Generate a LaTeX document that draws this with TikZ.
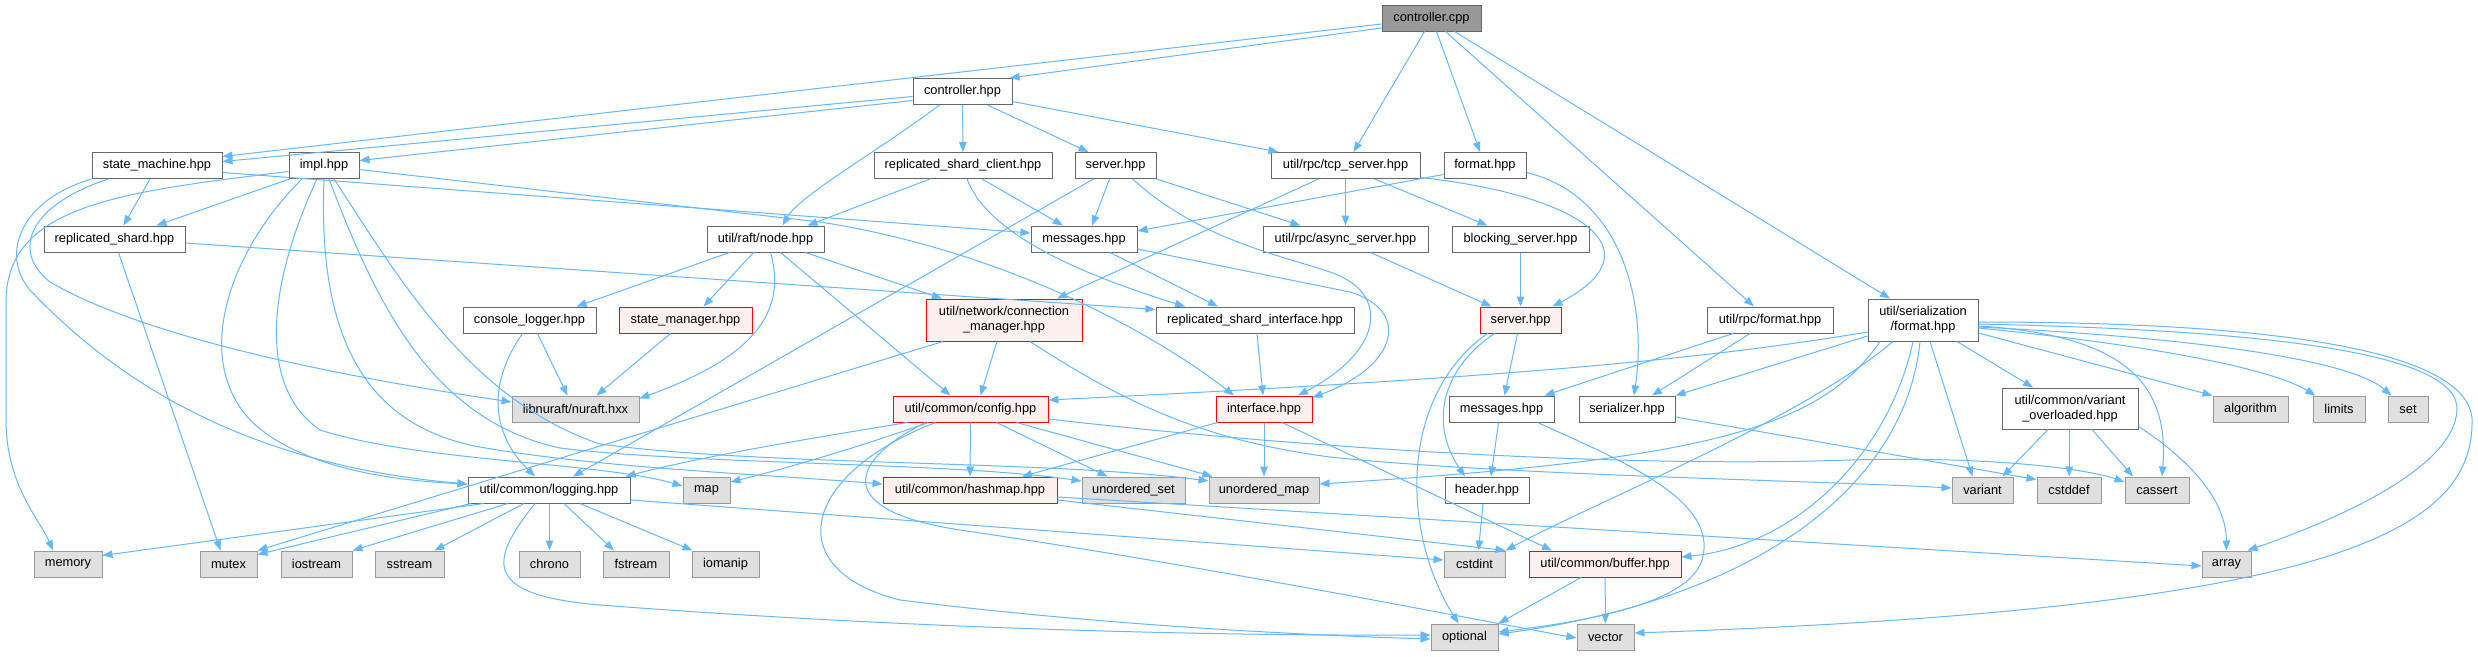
\documentclass[tikz,border=0pt]{standalone}
\usepackage{fontspec}
\setmainfont{Liberation Sans}
\usetikzlibrary{arrows.meta}
\definecolor{edgec}{HTML}{63B8FF}
\definecolor{nodeb}{HTML}{666666}
\definecolor{extb}{HTML}{999999}
\definecolor{extf}{HTML}{E0E0E0}
\definecolor{truncf}{HTML}{FFF0F0}
\definecolor{rootf}{HTML}{999999}
\begin{document}
\begin{tikzpicture}[x=1pt,y=-1pt,
  box/.style={draw=nodeb, fill=white, line width=1pt, minimum height=26pt, inner sep=0pt,
    font=\fontsize{12.8}{15.3}\selectfont, align=center},
  ext/.style={box, draw=extb, fill=extf},
  trunc/.style={box, draw=red, fill=truncf},
  rootn/.style={box, fill=rootf},
  two/.style={minimum height=42pt},
  e/.style={draw=edgec, line width=1pt, -{Triangle[length=10pt,width=7.5pt]}}]
\useasboundingbox (0,0) rectangle (2478,656);
\fill[white] (0,0) rectangle (2478,656);
% row 0-1
\node[rootn, minimum width=99pt] (ccpp) at (1431.5,18) {controller.cpp};
\node[box, minimum width=99pt] (chpp) at (962.5,91.5) {controller.hpp};
% row 2
\node[box, minimum width=130pt] (sm) at (157,165.5) {state\_machine.hpp};
\node[box, minimum width=70pt] (impl) at (324,165.5) {impl.hpp};
\node[box, minimum width=178pt] (rsc) at (963,165.5) {replicated\_shard\_client.hpp};
\node[box, minimum width=81pt] (srv1) at (1115.5,165.5) {server.hpp};
\node[box, minimum width=149pt] (tcp) at (1345.5,165.5) {util/rpc/tcp\_server.hpp};
\node[box, minimum width=82pt] (fmt) at (1485,165.5) {format.hpp};
% row 3
\node[box, minimum width=141pt] (rs) at (114.5,239) {replicated\_shard.hpp};
\node[box, minimum width=117pt] (node) at (765.5,239) {util/raft/node.hpp};
\node[box, minimum width=106pt] (msg1) at (1084,239) {messages.hpp};
\node[box, minimum width=165pt] (async) at (1345.5,239) {util/rpc/async\_server.hpp};
\node[box, minimum width=137pt] (block) at (1520.5,239) {blocking\_server.hpp};
% row 4
\node[box, minimum width=133pt] (clog) at (529.5,320) {console\_logger.hpp};
\node[trunc, minimum width=133pt] (smgr) at (685.5,320) {state\_manager.hpp};
\node[trunc, two, minimum width=156pt] (conn) at (1004,320) {util/network/connection\\\_manager.hpp};
\node[box, minimum width=198pt] (rsi) at (1255,320) {replicated\_shard\_interface.hpp};
\node[trunc, minimum width=81pt] (srv2) at (1520.5,320) {server.hpp};
\node[box, minimum width=126pt] (rpcf) at (1770,320) {util/rpc/format.hpp};
\node[box, two, minimum width=110pt] (serf) at (1923,320) {util/serialization\\/format.hpp};
% row 5
\node[ext, minimum width=127pt] (nuraft) at (575.5,409) {libnuraft/nuraft.hxx};
\node[trunc, minimum width=155pt] (config) at (970.5,409) {util/common/config.hpp};
\node[trunc, minimum width=96pt] (iface) at (1264,409) {interface.hpp};
\node[box, minimum width=105pt] (msg2) at (1501.5,409) {messages.hpp};
\node[box, minimum width=96pt] (ser) at (1627,409) {serializer.hpp};
\node[box, minimum width=136pt, minimum height=41pt] (vo) at (2070,408.5) {util/common/variant\\\_overloaded.hpp};
\node[ext, minimum width=75pt] (alg) at (2250.5,409) {algorithm};
\node[ext, minimum width=52pt] (lim) at (2339,409) {limits};
\node[ext, minimum width=40pt] (setn) at (2408,409) {set};
% row 6
\node[box, minimum width=162pt] (logg) at (549,490) {util/common/logging.hpp};
\node[ext, minimum width=47pt] (mapn) at (706.5,490) {map};
\node[trunc, minimum width=174pt] (hmap) at (970,490) {util/common/hashmap.hpp};
\node[ext, minimum width=103pt] (uset) at (1133.5,490) {unordered\_set};
\node[ext, minimum width=110pt] (umap) at (1264,490) {unordered\_map};
\node[box, minimum width=84pt] (hdr) at (1487,490) {header.hpp};
\node[ext, minimum width=61pt] (var) at (1982.5,490) {variant};
\node[ext, minimum width=64pt] (cdef) at (2069,490) {cstddef};
\node[ext, minimum width=64pt] (cass) at (2157,490) {cassert};
% row 7
\node[ext, minimum width=68pt] (mem) at (68,564) {memory};
\node[ext, minimum width=57pt] (mtx) at (228.5,564) {mutex};
\node[ext, minimum width=71pt] (ios) at (316.5,564) {iostream};
\node[ext, minimum width=69pt] (sst) at (409.5,564) {sstream};
\node[ext, minimum width=61pt] (chr) at (549.5,564) {chrono};
\node[ext, minimum width=66pt] (fst) at (636,564) {fstream};
\node[ext, minimum width=67pt] (iom) at (725.5,564) {iomanip};
\node[ext, minimum width=61pt] (cint) at (1474.5,564) {cstdint};
\node[trunc, minimum width=152pt] (buf) at (1605,564) {util/common/buffer.hpp};
\node[ext, minimum width=49pt] (arr) at (2226.5,564) {array};
% row 8
\node[ext, minimum width=67pt] (opt) at (1464.5,637) {optional};
\node[ext, minimum width=57pt] (vec) at (1605.5,637) {vector};

% ---------- edges ----------
% controller.cpp
\draw[e] ([yshift=-10pt]ccpp.west) -- ([xshift=-3pt]chpp.north east);
\draw[e] ([yshift=-6pt]ccpp.west) -- ([yshift=9pt]sm.east);
\draw[e] ([xshift=-7pt]ccpp.south) -- ([xshift=8pt]tcp.north);
\draw[e] ([xshift=5pt]ccpp.south) -- ([xshift=-5pt]fmt.north);
\draw[e] ([xshift=14pt]ccpp.south) -- ([xshift=-16pt]rpcf.north);
\draw[e] ([xshift=23pt]ccpp.south) -- ([xshift=-33pt]serf.north);
% controller.hpp
\draw[e] ([yshift=-5pt]chpp.west) -- ([yshift=4pt]sm.east);
\draw[e] ([yshift=-9pt]chpp.west) -- ([yshift=5pt]impl.east);
\draw[e] ([xshift=-23pt]chpp.south) .. controls (880,150) and (800,195) .. ([xshift=17pt]node.north);
\draw[e] (chpp) -- (rsc);
\draw[e] ([xshift=25pt]chpp.south) -- ([xshift=-27pt]srv1.north);
\draw[e] ([yshift=-10pt]chpp.east) -- ([xshift=8pt]tcp.north west);
% state_machine
\draw[e] ([xshift=-7pt]sm.south) -- ([xshift=9pt]rs.north);
\draw[e] ([yshift=-7pt]sm.east) -- ([yshift=6pt]msg1.west);
\draw[e] ([xshift=-49pt]sm.south) .. controls (30,205) and (10,250) .. (50,282) .. controls (150,340) and (350,378) .. ([yshift=7pt]nuraft.west);
\draw[e] (sm.south west) .. controls (20,200) and (0,255) .. (30,290) .. controls (120,385) and (250,465) .. ([yshift=6pt]logg.west);
% impl
\draw[e] ([yshift=-6pt]impl.west) .. controls (120,192) and (8,205) .. (6,300) -- (6,420) .. controls (6,485) and (40,520) .. ([xshift=-15pt]mem.north);
\draw[e] ([xshift=1pt]impl.south west) -- ([xshift=42pt]rs.north);
\draw[e] ([xshift=-22pt]impl.south) .. controls (230,250) and (190,360) .. (253,423) .. controls (300,465) and (380,480) .. ([yshift=6pt]logg.west);
\draw[e] ([xshift=-7pt]impl.south) .. controls (270,280) and (255,385) .. (320,430) .. controls (420,462) and (600,462) .. ([yshift=4pt]mapn.west);
\draw[e] (impl.south) .. controls (318,330) and (360,425) .. (480,447) .. controls (600,468) and (760,474) .. ([yshift=6pt]hmap.west);
\draw[e] ([xshift=5pt]impl.south) .. controls (375,300) and (430,420) .. (560,448) .. controls (700,465) and (950,462) .. ([yshift=9pt]uset.west);
\draw[e] ([xshift=10pt]impl.south) .. controls (400,280) and (470,400) .. (600,444) .. controls (760,466) and (1050,460) .. ([yshift=9pt]umap.west);
\draw[e] ([yshift=-4pt]impl.east) -- (820,222) .. controls (1000,250) and (1150,330) .. ([xshift=-30pt]iface.north);
% replicated_shard
\draw[e] ([yshift=-4pt]rs.east) -- ([yshift=-3pt]rsi.north west);
\draw[e] ([xshift=4pt]rs.south) -- ([xshift=-8pt]mtx.north);
% replicated_shard_client
\draw[e] ([xshift=-33pt]rsc.south) -- ([xshift=42pt]node.north);
\draw[e] ([xshift=19pt]rsc.south) -- ([xshift=-21pt]msg1.north);
\draw[e] ([xshift=4pt]rsc.south) .. controls (990,240) and (1100,280) .. ([xshift=-70pt]rsi.north);
% server.hpp (1)
\draw[e] ([xshift=-6pt]srv1.south) -- ([xshift=8pt]msg1.north);
\draw[e] (srv1.south east) -- ([xshift=-45pt]async.north);
\draw[e] ([xshift=-22pt]srv1.south) -- ([xshift=24pt]logg.north);
\draw[e] ([xshift=17pt]srv1.south) .. controls (1200,240) and (1280,255) .. (1330,272) .. controls (1390,292) and (1385,350) .. ([xshift=34pt]iface.north);
% messages.hpp (1)
\draw[e] ([xshift=26pt]msg1.south) -- ([xshift=-37pt]rsi.north);
\draw[e] ([yshift=-10pt]msg1.east) -- (1350,292) .. controls (1410,310) and (1400,365) .. ([yshift=-2pt]iface.north east);
% tcp_server
\draw[e] (tcp) -- (async);
\draw[e] ([xshift=29pt]tcp.south) -- ([xshift=-33pt]block.north);
\draw[e] ([xshift=-27pt]tcp.south) -- ([xshift=53pt]conn.north);
\draw[e] ([yshift=-12pt]tcp.east) .. controls (1580,195) and (1660,250) .. ([xshift=32pt]srv2.north);
% format.hpp
\draw[e] ([yshift=-9pt]fmt.west) -- ([yshift=8pt]msg1.east);
\draw[e] ([yshift=-7pt]fmt.east) .. controls (1620,195) and (1648,300) .. ([xshift=7pt]ser.north);
% servers
\draw[e] ([xshift=25pt]async.south) -- ([xshift=-29pt]srv2.north);
\draw[e] (block) -- (srv2);
\draw[e] ([xshift=2pt]rsi.south) -- ([xshift=-1pt]iface.north);
% console_logger, state_manager
\draw[e] ([xshift=-7pt]clog.south) .. controls (490,380) and (488,430) .. ([xshift=-14pt]logg.north);
\draw[e] ([xshift=8pt]clog.south) -- ([xshift=-8pt]nuraft.north);
\draw[e] ([xshift=-15pt]smgr.south) -- ([xshift=21pt]nuraft.north);
% node
\draw[e] ([xshift=-36pt]node.south) -- ([xshift=47pt]clog.north);
\draw[e] ([xshift=-12pt]node.south) -- ([xshift=18pt]smgr.north);
\draw[e] ([xshift=5pt]node.south) .. controls (790,320) and (740,362) .. ([yshift=-3pt]nuraft.north east);
\draw[e] ([xshift=15pt]node.south) -- ([xshift=-20pt]config.north);
\draw[e] ([xshift=40pt]node.south) -- ([xshift=-62pt]conn.north);
% connection_manager
\draw[e] ([xshift=-7pt]conn.south) -- ([xshift=10pt]config.north);
\draw[e] ([xshift=-61pt]conn.south) -- (mtx.north east);
\draw[e] ([xshift=26pt]conn.south) .. controls (1120,400) and (1200,440) .. (1330,457) .. controls (1500,475) and (1800,480) .. ([yshift=2pt]var.west);
% config
\draw[e] (config) -- (hmap);
\draw[e] ([xshift=26pt]config.south) -- ([xshift=-26pt]uset.north);
\draw[e] ([xshift=46pt]config.south) -- ([xshift=4pt]umap.north west);
\draw[e] ([xshift=-63pt]config.south) .. controls (800,440) and (700,457) .. ([xshift=-5pt]logg.north east);
\draw[e] ([xshift=-42pt]config.south) .. controls (850,450) and (780,470) .. ([yshift=8pt]mapn.east);
\draw[e] ([xshift=-35pt]config.south) .. controls (800,475) and (780,570) .. (900,600) .. controls (1100,625) and (1300,635) .. ([yshift=-2pt]opt.west);
\draw[e] ([xshift=-45pt]config.south) .. controls (850,460) and (830,510) .. (960,530) .. controls (1200,565) and (1450,615) .. ([yshift=-1pt]vec.west);
\draw[e] ([yshift=-10pt]config.east) .. controls (1300,448) and (1620,468) .. (1850,460) .. controls (2000,456) and (2090,470) .. ([yshift=8pt]cass.west);
% logging
\draw[e] ([xshift=-65pt]logg.south) -- ([yshift=-5pt]mem.north east);
\draw[e] ([xshift=-78pt]logg.south) -- ([yshift=-4pt]mtx.north east);
\draw[e] ([xshift=-41pt]logg.south) -- (ios.north east);
\draw[e] ([xshift=-25pt]logg.south) -- ([xshift=25pt]sst.north);
\draw[e] ([xshift=0.5pt]logg.south) -- (chr.north);
\draw[e] ([xshift=15pt]logg.south) -- ([xshift=-22pt]fst.north);
\draw[e] ([xshift=31pt]logg.south) -- ([xshift=-33pt]iom.north);
\draw[e] ([xshift=-14pt]logg.south) .. controls (490,560) and (480,595) .. (600,605) .. controls (900,628) and (1200,636) .. ([yshift=2pt]opt.west);
\draw[e] ([yshift=-10pt]logg.east) -- ([yshift=4pt]cint.west);
% hashmap, header
\draw[e] ([yshift=-10pt]hmap.east) -- (cint.north east);
\draw[e] ([yshift=-7pt]hmap.east) -- ([yshift=-2pt]arr.west);
\draw[e] ([xshift=-4pt]hdr.south) -- ([xshift=4pt]cint.north);
% interface
\draw[e] ([xshift=2pt]iface.south west) -- ([xshift=52pt]hmap.north);
\draw[e] (iface) -- (umap);
\draw[e] ([xshift=18pt]iface.south) -- ([xshift=-53pt]buf.north);
% server.hpp (2)
\draw[e] ([xshift=-3pt]srv2.south) -- ([xshift=3pt]msg2.north);
\draw[e] ([xshift=-26pt]srv2.south) .. controls (1440,370) and (1430,425) .. ([xshift=-22pt]hdr.north);
\draw[e] ([xshift=-33pt]srv2.south) .. controls (1400,395) and (1400,530) .. ([xshift=-6pt]opt.north);
% messages.hpp (2)
\draw[e] ([xshift=-3pt]msg2.south) -- ([xshift=4pt]hdr.north);
\draw[e] ([xshift=36pt]msg2.south) .. controls (1620,460) and (1720,500) .. (1702,560) .. controls (1688,605) and (1580,622) .. ([yshift=5pt]opt.east);
% buffer
\draw[e] ([xshift=-24pt]buf.south) -- (opt.north east);
\draw[e] (buf) -- (vec);
% rpc format, serializer
\draw[e] ([xshift=-37pt]rpcf.south) -- ([xshift=-10pt]msg2.north east);
\draw[e] ([xshift=-20pt]rpcf.south) -- ([xshift=25pt]ser.north);
\draw[e] ([yshift=-8pt]ser.east) -- ([yshift=-3pt]cdef.north west);
% variant_overloaded
\draw[e] ([xshift=-22pt]vo.south) -- ([xshift=20pt]var.north);
\draw[e] (vo) -- (cdef);
\draw[e] ([xshift=22pt]vo.south) -- ([xshift=-24pt]cass.north);
\draw[e] ([yshift=-18pt]vo.east) .. controls (2190,460) and (2226,500) .. (arr.north);
% serialization/format
\draw[e] ([yshift=-16pt]serf.west) -- (ser.north east);
\draw[e] ([yshift=-12pt]serf.west) .. controls (1700,360) and (1500,378) .. ([yshift=9pt]config.east);
\draw[e] ([xshift=-43pt]serf.south) .. controls (1820,430) and (1700,460) .. ([yshift=6pt]umap.east);
\draw[e] ([xshift=-30pt]serf.south) .. controls (1800,420) and (1600,500) .. (cint.north east);
\draw[e] ([xshift=-10pt]serf.south) .. controls (1890,450) and (1800,545) .. ([yshift=7pt]buf.east);
\draw[e] ([xshift=-3pt]serf.south) .. controls (1905,490) and (1750,600) .. ([yshift=3pt]opt.east);
\draw[e] ([xshift=7pt]serf.south) -- ([xshift=-10pt]var.north);
\draw[e] ([xshift=34pt]serf.south) -- ([xshift=-37pt]vo.north);
\draw[e] ([yshift=-13pt]serf.east) -- (alg.north west);
\draw[e] ([yshift=-6pt]serf.east) .. controls (2120,335) and (2170,380) .. ([xshift=5pt]cass.north);
\draw[e] ([yshift=-8pt]serf.east) .. controls (2150,345) and (2270,368) .. ([xshift=3pt]lim.north west);
\draw[e] ([yshift=-7pt]serf.east) .. controls (2200,338) and (2350,360) .. ([xshift=4pt]setn.north west);
\draw[e] ([yshift=-4pt]serf.east) .. controls (2250,330) and (2460,350) .. (2457,410) .. controls (2454,470) and (2330,522) .. ([xshift=-4pt]arr.north east);
\draw[e] ([yshift=-2pt]serf.east) .. controls (2300,322) and (2478,355) .. (2472,425) .. controls (2470,540) and (2300,610) .. ([yshift=4pt]vec.east);
\end{tikzpicture}
\end{document}
